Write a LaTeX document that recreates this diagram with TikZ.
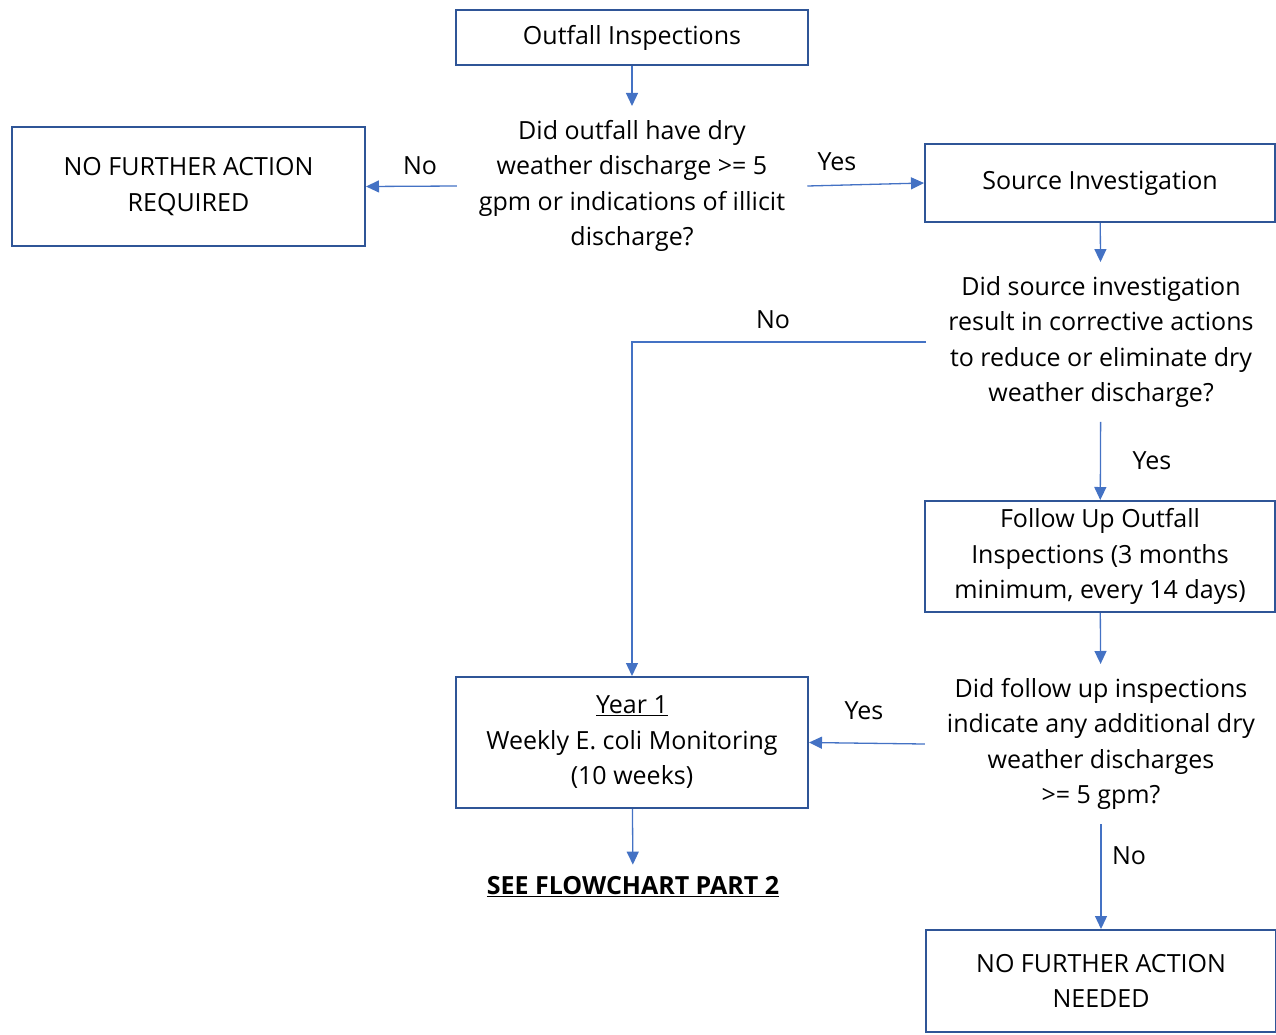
\documentclass[tikz,border=0pt]{standalone}
\usepackage{fontspec}
\setmainfont{Open Sans}
\usetikzlibrary{arrows.meta}
\definecolor{boxblue}{HTML}{2F5597}
\definecolor{arrowblue}{HTML}{4472C4}

\begin{document}
\begin{tikzpicture}[x=1pt,y=-1pt,
                font=\fontsize{25}{35.5}\selectfont,
                stepbox/.style={draw=boxblue,line width=2pt,align=center,inner sep=0pt},
                question/.style={align=center,inner xsep=22pt,inner ysep=14pt},
                arr/.style={draw=arrowblue,line width=1.3pt,-{Triangle[width=12pt,length=13pt]}}]
                \useasboundingbox (0,0) rectangle (1276,1034);
                \node[stepbox,minimum width=352,minimum height=55] (oi) at (632,37.5) {Outfall Inspections};
                \node[question] (d1) at (632,186) {Did outfall have dry\\weather discharge >= 5\\gpm or indications of illicit\\discharge?};
                \node[stepbox,minimum width=353,minimum height=119] (nfr) at (188.5,186.5) {NO FURTHER ACTION\\REQUIRED};
                \node[stepbox,minimum width=350,minimum height=78] (si) at (1100,183) {Source Investigation};
                \node[question] (d2) at (1101,342) {Did source investigation\\result in corrective actions\\to reduce or eliminate dry\\weather discharge?};
                \node[stepbox,minimum width=350,minimum height=111] (fu) at (1100,556.5) {Follow Up Outfall\\Inspections (3 months\\minimum, every 14 days)};
                \node[question] (d3) at (1101,744) {Did follow up inspections\\indicate any additional dry\\weather discharges\\>= 5 gpm?};
                \node[stepbox,minimum width=352,minimum height=131] (y1) at (632,742.5) {\underline{Year 1}\\Weekly E. coli Monitoring\\(10 weeks)};
                \node[inner sep=12pt] (see) at (633,887) {\textbf{\underline{SEE FLOWCHART PART 2}}};
                \node[stepbox,minimum width=350,minimum height=102] (nfan) at (1101,981) {NO FURTHER ACTION\\NEEDED};
                \node (no1) at (420,166) {No};
                \node (yes1) at (837,162) {Yes};
                \node (no2) at (773,320) {No};
                \node (yes2) at (1152,461) {Yes};
                \node (yes3) at (864,711) {Yes};
                \node (no3) at (1129,856) {No};
                \draw[arr] (oi) -- (d1);
                \draw[arr] (d1.west) -- (nfr.east);
                \draw[arr] (d1.east) -- (si.west);
                \draw[arr] (si) -- (d2);
                \draw[arr] (d2.west) -| (y1.north);
                \draw[arr] (d2) -- (fu);
                \draw[arr] (fu) -- (d3);
                \draw[arr] (d3.west) -- (y1.east);
                \draw[arr] (d3) -- (nfan);
                \draw[arr] (y1) -- (see);
\end{tikzpicture}
\end{document}
